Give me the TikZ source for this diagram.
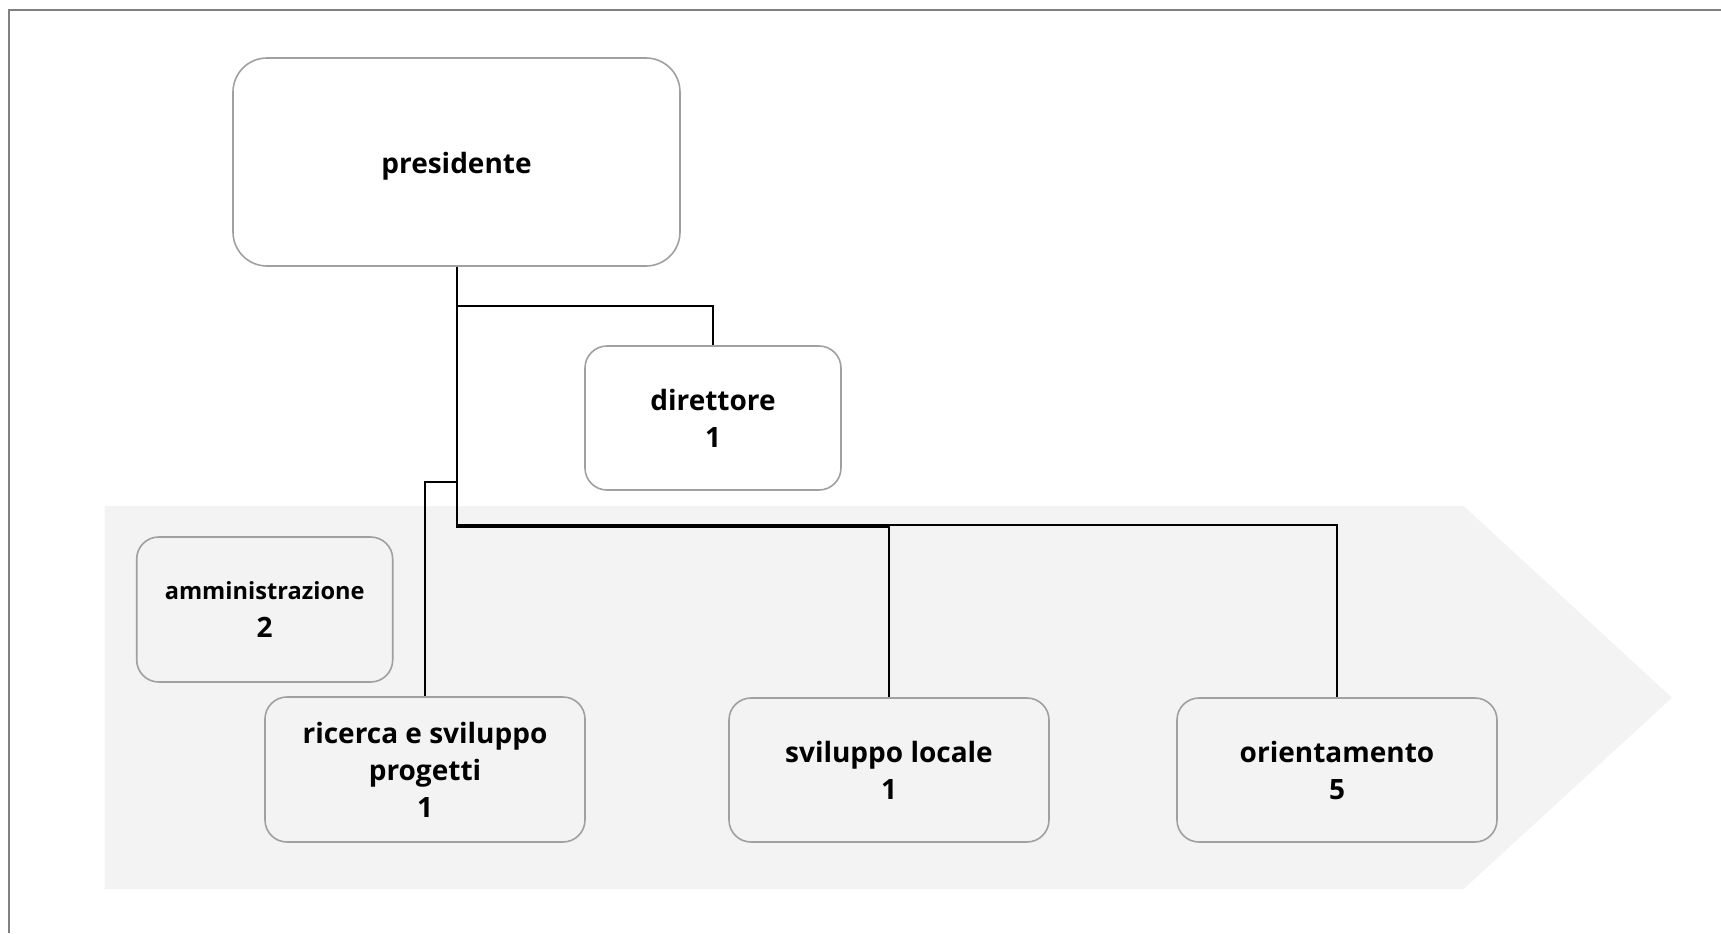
\documentclass[tikz,border=0pt]{standalone}
\usepackage{fontspec}
\setmainfont{Open Sans}
\definecolor{bandfill}{HTML}{F3F3F3}
\definecolor{boxline}{HTML}{A0A0A0}
\definecolor{framecol}{HTML}{808080}
\begin{document}
\begin{tikzpicture}[x=0.5pt,y=-0.5pt,
  box/.style={draw=boxline, line width=0.8pt, rounded corners=11pt, align=center,
    font=\bfseries\fontsize{14}{18.5}\selectfont, inner sep=0pt, fill=bandfill},
  whitebox/.style={box, fill=white},
  conn/.style={line width=1pt, draw=black}]
\useasboundingbox (0,0) rectangle (1721,933);
% frame
\draw[framecol, line width=1pt] (9,933) -- (9,10) -- (1721,10);
% band
\fill[bandfill] (104.6,506) -- (1463.6,506) -- (1672,697.7) -- (1463.6,889) -- (104.6,889) -- cycle;
% nodes
\node[whitebox, rounded corners=17pt, minimum width=223.5pt, minimum height=104pt] (pres) at (456.5,162) {\raisebox{-2.2pt}[\height][\depth]{presidente}};
\node[whitebox, minimum width=128pt, minimum height=72pt] (dir) at (713,418) {direttore\\1};
\node[box, minimum width=128pt, minimum height=72.5pt] (amm) at (264.7,609.5) {{\fontsize{11.8}{18.5}\selectfont amministrazione}\\[0.5pt]2};
\node[box, minimum width=160pt, minimum height=72.5pt] (ric) at (425,769.5) {ricerca e sviluppo\\progetti\\1};
\node[box, minimum width=160pt, minimum height=72pt] (svl) at (889,770) {sviluppo locale\\1};
\node[box, minimum width=160pt, minimum height=72pt] (ori) at (1337,770) {orientamento\\5};
% connectors
\coordinate (jdir) at (456.5,306);
\coordinate (jric) at (456.5,482);
\draw[conn] (pres.south) -- (jdir) -| (dir.north);
\draw[conn] (pres.south) -- (jric) -| (ric.north);
\draw[conn] (pres.south) |- (889,526.5) -- (svl.north);
\draw[conn] (pres.south) |- (1337,525) -- (ori.north);
\end{tikzpicture}
\end{document}
